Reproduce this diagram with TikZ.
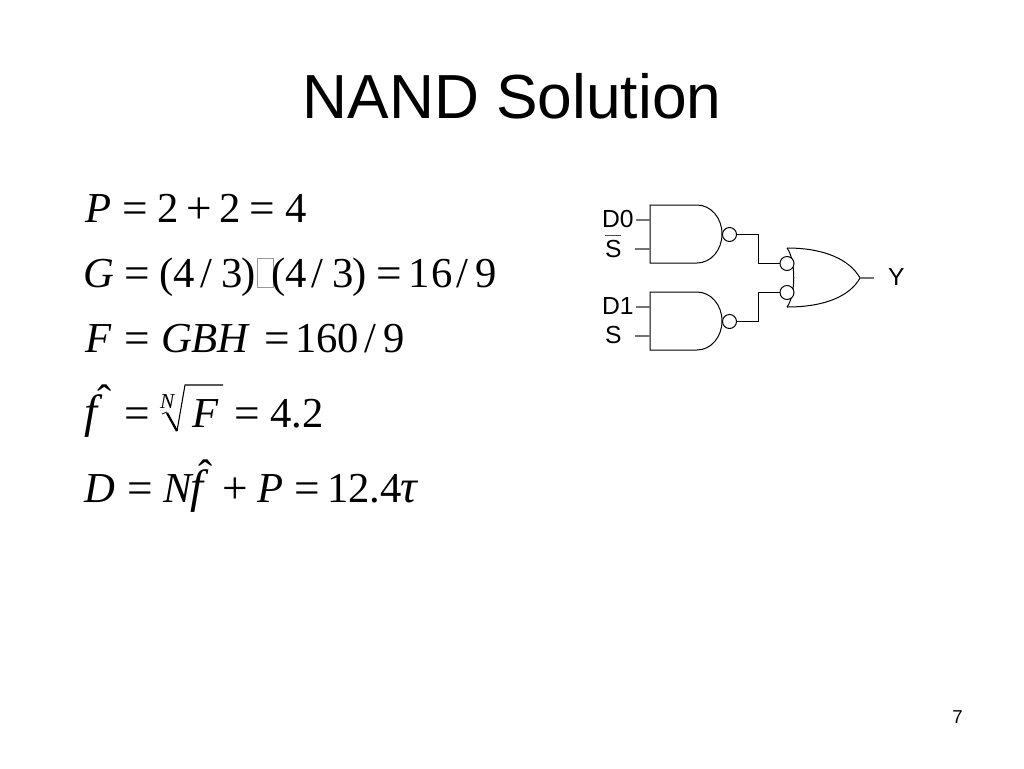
\documentclass[tikz,border=0pt]{standalone}
\usepackage{fontspec}
\setmainfont{Liberation Serif}
\newfontfamily\arial{Liberation Sans}
\begin{document}
\begin{tikzpicture}[x=0.75pt,y=-0.75pt,line cap=butt,
  eq/.style={anchor=base west,inner sep=0pt,outer sep=0pt,font=\fontsize{32}{32}\selectfont,text=black},
  op/.style={eq,font=\fontsize{34}{34}\selectfont},
  var/.style={eq,font=\fontsize{32}{32}\selectfont\itshape},
  bigvar/.style={eq,font=\fontsize{35}{35}\selectfont\itshape},
  small/.style={eq,font=\fontsize{16}{16}\selectfont\itshape},
  sig/.style={anchor=base west,inner sep=0pt,outer sep=0pt,font=\fontsize{18.5}{18.5}\selectfont\arial,text=black},
  gate/.style={draw=black,line width=0.75pt},
  pin/.style={draw=black!55,line width=0.8pt},
  wire/.style={draw=black,line width=0.75pt},
  bubble/.style={circle,draw=black,line width=0.75pt,minimum size=10.5pt,inner sep=0pt,outer sep=0pt,fill=white}]
\useasboundingbox (0,0) rectangle (1024,768);
\fill[white] (0,0) rectangle (1024,768);
% title
\node[anchor=base,inner sep=0pt,font=\fontsize{46.7}{46.7}\selectfont\arial] (title) at (512,118) {NAND Solution};
% line 1
\node[var] (p1) at (85,222) {P};
\node[op] (e1a) at (122,223) {=};
\node[eq] (n1a) at (157,222) {2};
\node[op] (pl1) at (186,223) {+};
\node[eq] (n1b) at (219,222) {2};
\node[op] (e1b) at (249,223) {=};
\node[eq] (n1c) at (285,222) {4};
% line 2
\node[var] (g2) at (83,287) {G};
\node[op] (e2a) at (124,288) {=};
\node[eq] (l2a) at (159,287) {(};
\node[eq] (n2a) at (173,287) {4};
\node[eq] (s2a) at (200,287) {/};
\node[eq] (n2b) at (221,287) {3};
\node[eq] (r2a) at (241,287) {)};
\node[draw=black!40,line width=0.7pt,minimum width=12pt,minimum height=21.75pt,inner sep=0pt,anchor=north west] (missing) at (257,258) {};
\node[eq] (l2b) at (271,287) {(};
\node[eq] (n2c) at (285,287) {4};
\node[eq] (s2b) at (311,287) {/};
\node[eq] (n2d) at (332,287) {3};
\node[eq] (r2b) at (352,287) {)};
\node[op] (e2b) at (376,288) {=};
\node[eq] (n2e) at (408,287) {1};
\node[eq] (n2f) at (431,287) {6};
\node[eq] (s2c) at (456,287) {/};
\node[eq] (n2g) at (475,287) {9};
% line 3
\node[var] (f3) at (85,352) {F};
\node[op] (e3a) at (124,353) {=};
\node[var] (gbh) at (161,352) {GBH};
\node[op] (e3b) at (264,353) {=};
\node[eq] (n3a) at (295,352) {160};
\node[eq] (s3) at (364,352) {/};
\node[eq] (n3b) at (383,352) {9};
% line 4
\node[bigvar] (f4) at (84,427) {f};
\node[eq] (h4) at (97,414) {ˆ};
\node[op] (e4a) at (124,428) {=};
\node[small] (n4) at (160,408) {N};
\draw[line width=0.6pt,line join=miter] (162,414) -- (167,412);
\draw[line width=1.7pt,line join=miter] (167,413) -- (177,431);
\draw[line width=0.8pt,line join=miter] (177,431) -- (185,385) -- (223,385);
\node[var] (f4b) at (192,427) {F};
\node[op] (e4b) at (234,428) {=};
\node[eq] (n4b) at (270,427) {4.2};
% line 5
\node[var] (d5) at (84,502) {D};
\node[op] (e5a) at (127,503) {=};
\node[var] (n5) at (163,502) {N};
\node[bigvar] (f5) at (190,502) {f};
\node[eq] (h5) at (198,489) {ˆ};
\node[op] (pl5) at (222,503) {+};
\node[var] (p5) at (257,502) {P};
\node[op] (e5b) at (294,503) {=};
\node[eq] (n5b) at (327,502) {12.4};
\node[bigvar] (tau) at (400,502) {τ};
% page number
\node[anchor=base west,inner sep=0pt,font=\fontsize{14}{14}\selectfont\arial] (page) at (952,723) {7};
% signal labels
\node[sig] (D0) at (602,227) {D0};
\node[sig] (S0) at (605,257) {S};
\draw[line width=0.5pt,draw=black!70] (605,235) -- (621,235);
\node[sig] (D1) at (602,314) {D1};
\node[sig] (S1) at (605,343) {S};
\node[sig] (Y) at (888,285) {Y};
% NAND gates
\draw[gate] (650,205) -- (697,205) .. controls (711,205) and (722,218) .. (722,234) .. controls (722,250) and (711,263) .. (697,263) -- (650,263) -- cycle;
\draw[gate] (650,292) -- (697,292) .. controls (711,292) and (722,305) .. (722,321) .. controls (722,337) and (711,350) .. (697,350) -- (650,350) -- cycle;
% OR gate
\draw[gate] (787,248) .. controls (825,248) and (850,260) .. (860,278) .. controls (850,296) and (825,307) .. (787,307);
\draw[gate] (787,248) .. controls (796,260) and (796,295) .. (787,307);
% pins
\coordinate (a0) at (650,220); \coordinate (a1) at (650,249);
\coordinate (b0) at (650,307); \coordinate (b1) at (650,336);
\coordinate (ain0) at (636,220); \coordinate (ain1) at (635,249);
\coordinate (bin0) at (636,307); \coordinate (bin1) at (635,336);
\coordinate (orout) at (860,278); \coordinate (yout) at (874,278);
\draw[pin] (ain0) -- (a0);
\draw[pin] (ain1) -- (a1);
\draw[pin] (bin0) -- (b0);
\draw[pin] (bin1) -- (b1);
\draw[pin] (orout) -- (yout);
% bubbles
\node[bubble] (oa) at (729.5,234.5) {};
\node[bubble] (ob) at (729.5,321.5) {};
\node[bubble] (ia) at (787,263.5) {};
\node[bubble] (ib) at (787,292.5) {};
% wires
\draw[wire] (oa.east) -| (758.5,263.5) -- (ia.west);
\draw[wire] (ob.east) -| (758.5,292.5) -- (ib.west);
\end{tikzpicture}
\end{document}
